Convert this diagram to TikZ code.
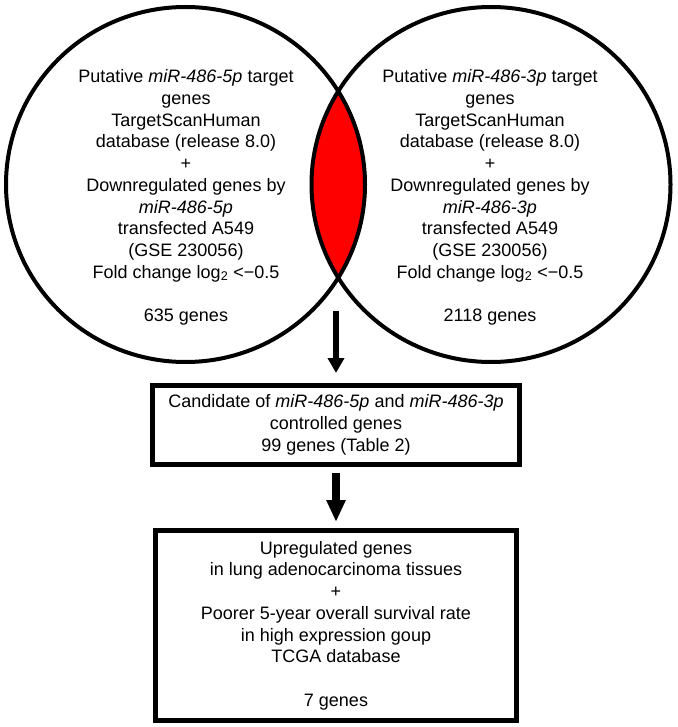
\documentclass[tikz,border=0pt]{standalone}
\usepackage{fontspec}
\setmainfont{Liberation Sans}
\usetikzlibrary{arrows.meta}
\tikzset{
  venn/.style={line width=4pt},
  txt/.style={align=center, font=\fontsize{18}{21.7}\selectfont, inner sep=0pt},
  boxnode/.style={draw, line width=5pt, inner sep=0pt, align=center, font=\fontsize{18}{21.7}\selectfont},
  arrA/.style={line width=6pt, -{Triangle[width=16pt,length=15pt]}},
  arrB/.style={line width=8pt, -{Triangle[width=18pt,length=22pt]}},
}
\begin{document}
\begin{tikzpicture}[x=1pt,y=-1pt]
\useasboundingbox (0,0) rectangle (677,727);
% lens
\begin{scope}
  \clip (185.5,184.5) ellipse [x radius=179.5, y radius=177.5];
  \fill[red] (491,184.5) ellipse [x radius=179.5, y radius=177.5];
\end{scope}
\draw[venn] (185.5,184.5) ellipse [x radius=179.5, y radius=177.5];
\draw[venn] (491,184.5) ellipse [x radius=179.5, y radius=177.5];
% texts
\node[txt] (lt) at (186,197.5) {Putative \textit{miR-486-5p} target\\genes\\TargetScanHuman\\database (release 8.0)\\+\\Downregulated genes by\\\textit{miR-486-5p}\\transfected A549\\(GSE 230056)\\Fold change log\textsubscript{2} <−0.5\\[21.7pt]635 genes};
\node[txt] (rt) at (490,197.5) {Putative \textit{miR-486-3p} target\\genes\\TargetScanHuman\\database (release 8.0)\\+\\Downregulated genes by\\\textit{miR-486-3p}\\transfected A549\\(GSE 230056)\\Fold change log\textsubscript{2} <−0.5\\[21.7pt]2118 genes};
% boxes
\node[boxnode, minimum width=367pt, minimum height=79pt] (b1) at (336,425) {Candidate of \textit{miR-486-5p} and \textit{miR-486-3p}\\controlled genes\\99 genes (Table 2)};
\node[boxnode, minimum width=361pt, minimum height=190pt] (b2) at (336,625.5) {Upregulated genes\\in lung adenocarcinoma tissues\\+\\Poorer 5-year overall survival rate\\in high expression goup\\TCGA database\\[21.7pt]7 genes};
% arrows
\coordinate (a1) at (336,311);
\draw[arrA, shorten >=10pt] (a1) -- (b1.north);
\draw[arrB, shorten <=6pt, shorten >=6pt] (b1.south) -- (b2.north);
\end{tikzpicture}
\end{document}
